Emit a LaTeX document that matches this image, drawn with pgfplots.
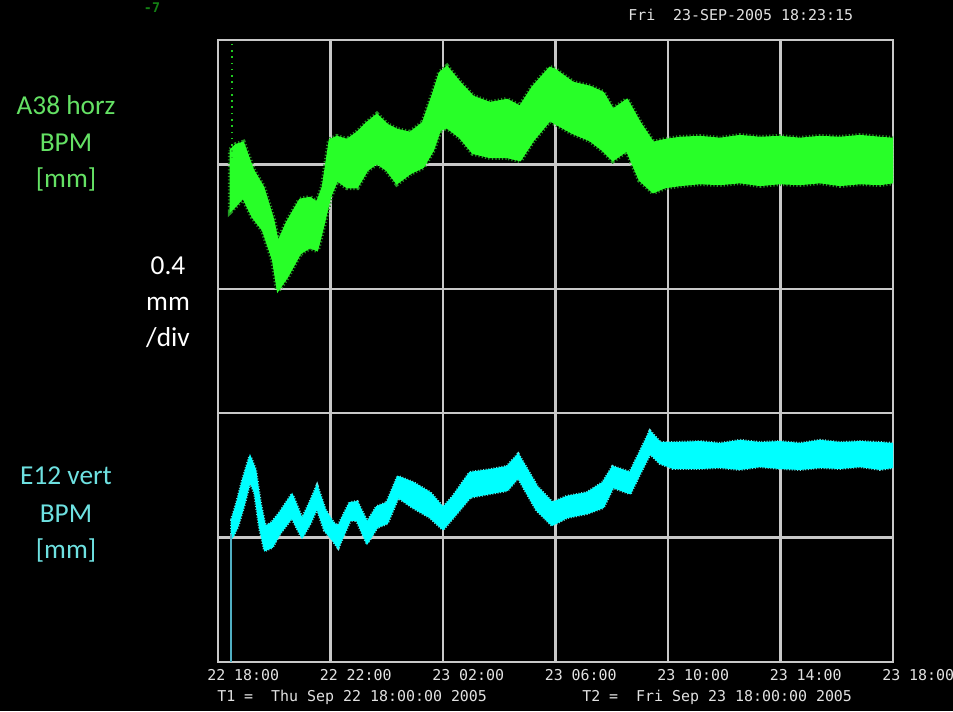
\documentclass[border=0pt]{standalone}
\usepackage{pgfplots}
\pgfplotsset{compat=1.18}
\usepackage{pgfplotstable}
\usepackage{fontspec}
\newfontfamily\labelfont{Carlito}
\newfontfamily\termfont{DejaVu Sans Mono}

\definecolor{bpmgreen}{RGB}{40,255,40}
\definecolor{bpmgreendark}{RGB}{35,150,35}
\definecolor{bpmcyan}{RGB}{0,255,255}
\definecolor{bpmcyanedge}{RGB}{110,225,225}
\definecolor{labgreen}{RGB}{100,225,100}
\definecolor{labcyan}{RGB}{110,225,225}
\definecolor{gridgray}{RGB}{200,200,200}
\definecolor{termtext}{RGB}{225,225,225}

% A38 horizontal BPM: envelope of the scatter band (upper edge forward, lower edge back)
\pgfplotstableread{
h y
0.46 1.646
0.64 1.662
0.89 1.669
1.24 1.582
1.60 1.527
1.96 1.421
2.13 1.347
2.45 1.412
2.92 1.486
3.27 1.492
3.52 1.476
3.73 1.527
3.98 1.678
4.23 1.688
4.59 1.678
4.94 1.701
5.30 1.733
5.65 1.759
6.01 1.727
6.36 1.711
6.83 1.701
7.29 1.733
7.64 1.823
7.89 1.894
8.14 1.913
8.60 1.862
9.07 1.817
9.67 1.797
10.28 1.807
10.74 1.785
11.20 1.849
11.80 1.910
11.98 1.904
12.62 1.862
13.23 1.849
13.69 1.830
14.04 1.775
14.54 1.807
15.00 1.733
15.47 1.669
15.89 1.678
16.43 1.685
17.14 1.688
17.85 1.682
18.56 1.691
19.27 1.685
19.98 1.688
20.69 1.682
21.40 1.688
22.12 1.685
22.83 1.691
23.54 1.685
24.00 1.682
24.00 1.543
23.54 1.537
22.83 1.540
22.12 1.534
21.40 1.543
20.69 1.537
19.98 1.540
19.27 1.534
18.56 1.543
17.85 1.537
17.14 1.540
16.43 1.534
15.89 1.527
15.47 1.511
15.00 1.550
14.54 1.646
14.04 1.614
13.69 1.646
13.23 1.678
12.62 1.701
11.98 1.733
11.80 1.743
11.20 1.678
10.74 1.614
10.28 1.624
9.67 1.624
9.07 1.637
8.60 1.688
8.14 1.720
7.89 1.711
7.64 1.646
7.29 1.592
6.83 1.572
6.36 1.540
6.01 1.582
5.65 1.605
5.30 1.582
4.94 1.527
4.59 1.527
4.23 1.550
3.98 1.495
3.73 1.399
3.52 1.325
3.27 1.334
2.92 1.315
2.45 1.238
2.13 1.196
1.96 1.293
1.60 1.389
1.24 1.431
0.89 1.495
0.64 1.469
0.46 1.453
}\horzband

% E12 vertical BPM: envelope of the band
\pgfplotstableread{
h y
0.50 0.457
0.68 0.511
0.89 0.585
1.14 0.659
1.32 0.617
1.49 0.511
1.67 0.434
1.92 0.447
2.20 0.479
2.63 0.537
2.99 0.457
3.27 0.511
3.52 0.563
3.80 0.489
4.09 0.447
4.27 0.434
4.69 0.511
4.94 0.514
5.30 0.447
5.65 0.498
6.01 0.511
6.40 0.595
6.93 0.576
7.54 0.543
8.00 0.495
8.36 0.531
8.96 0.608
9.67 0.617
10.28 0.627
10.67 0.666
11.34 0.563
11.88 0.511
12.41 0.531
13.12 0.543
13.69 0.576
14.04 0.627
14.65 0.608
15.00 0.672
15.36 0.740
15.72 0.704
16.18 0.704
17.14 0.707
17.85 0.701
18.56 0.711
19.27 0.704
19.98 0.707
20.69 0.701
21.40 0.711
22.12 0.704
22.83 0.707
23.54 0.704
24.00 0.701
24.00 0.627
23.54 0.621
22.83 0.630
22.12 0.624
21.40 0.627
20.69 0.621
19.98 0.624
19.27 0.630
18.56 0.621
17.85 0.627
17.14 0.624
16.18 0.624
15.72 0.640
15.36 0.672
15.00 0.608
14.65 0.543
14.04 0.563
13.69 0.498
13.12 0.479
12.41 0.466
11.88 0.441
11.34 0.489
10.67 0.595
10.28 0.553
9.67 0.543
8.96 0.531
8.36 0.466
8.00 0.428
7.54 0.466
6.93 0.498
6.40 0.531
6.01 0.447
5.65 0.434
5.30 0.383
4.94 0.457
4.69 0.457
4.27 0.370
4.09 0.392
3.80 0.424
3.52 0.498
3.27 0.447
2.99 0.402
2.63 0.466
2.20 0.415
1.92 0.370
1.67 0.360
1.49 0.434
1.32 0.543
1.14 0.585
0.89 0.498
0.68 0.434
0.50 0.402
}\vertband

\begin{document}
\begin{tikzpicture}[x=0.75pt,y=0.75pt]
\useasboundingbox (0,0) rectangle (953,711);
\clip (0,0) rectangle (953,711);
\fill[black] (0,0) rectangle (953,711);

\begin{axis}[
  at={(163.5pt,36.75pt)}, anchor=south west,
  scale only axis, width=506.25pt, height=466.5pt,
  xmin=0, xmax=24, ymin=0, ymax=2,
  xtick={0,4,8,12,16,20,24},
  xticklabels={22 18:00,22 22:00,23 02:00,23 06:00,23 10:00,23 14:00,23 18:00},
  ytick={0,0.4,0.8,1.2,1.6,2.0},
  yticklabels={},
  major tick length=0pt,
  grid=major,
  major grid style={gridgray, line width=1.7pt},
  axis line style={gridgray, line width=1.7pt},
  axis background/.style={fill=black},
  xticklabel style={font=\termfont\fontsize{11.2}{13}\selectfont, text=termtext,
    anchor=north west, inner sep=0pt, xshift=-8.25pt, yshift=-5pt},
]
% speckled rim of the horizontal BPM scatter, then its dense core
\addplot[bpmgreendark, line width=4.5pt, dash pattern=on 0.9pt off 1.6pt, fill=none] table[x=h,y=y]{\horzband} -- cycle;
\addplot[draw=bpmgreen, line width=1.8pt, fill=bpmgreen] table[x=h,y=y]{\horzband} -- cycle;
% sparse readings at the start of the horizontal record
\addplot[bpmgreen!80!black, line width=1.5pt, dash pattern=on 1.2pt off 3.5pt] coordinates {(0.50,1.62) (0.50,1.995)};

% vertical BPM band
\addplot[bpmcyanedge, line width=3pt, dash pattern=on 0.7pt off 1.3pt, fill=none] table[x=h,y=y]{\vertband} -- cycle;
\addplot[draw=bpmcyan, line width=1.6pt, fill=bpmcyan] table[x=h,y=y]{\vertband} -- cycle;
\addplot[color={rgb,255:red,80;green,175;blue,195}, line width=1pt] coordinates {(0.46,0) (0.46,0.41)};
\end{axis}

% timestamp and time range
\node[anchor=base west, inner sep=0pt, text=termtext, font=\termfont\fontsize{11.2}{13}\selectfont] at (628,690) {Fri~~23-SEP-2005 18:23:15};
\node[anchor=base west, inner sep=0pt, text=termtext, font=\termfont\fontsize{11.2}{13}\selectfont] at (217,10) {T1 =~~Thu Sep 22 18:00:00 2005};
\node[anchor=base west, inner sep=0pt, text=termtext, font=\termfont\fontsize{11.2}{13}\selectfont] at (582,10) {T2 =~~Fri Sep 23 18:00:00 2005};
\node[anchor=base, inner sep=0pt, text=bpmgreen!50!black, font=\termfont\bfseries\fontsize{10}{11}\selectfont] at (152,698) {-7};

% channel labels and scale
\begin{scope}[every node/.style={anchor=base, inner sep=0pt, font=\labelfont\fontsize{20.5}{24}\selectfont}]
\node[text=labgreen] at (66,596) {A38 horz};
\node[text=labgreen] at (66,559) {BPM};
\node[text=labgreen] at (66,523) {[mm]};
\node[text=white] at (168,436) {0.4};
\node[text=white] at (168,400) {mm};
\node[text=white] at (168,364) {/div};
\node[text=labcyan] at (66,226) {E12 vert};
\node[text=labcyan] at (66,189) {BPM};
\node[text=labcyan] at (66,153) {[mm]};
\end{scope}
\end{tikzpicture}
\end{document}
